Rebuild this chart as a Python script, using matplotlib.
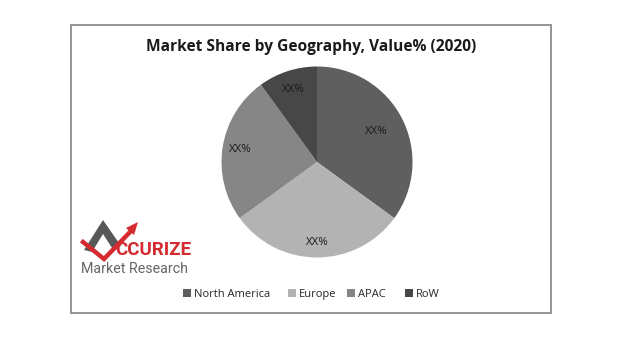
import numpy as np
import matplotlib
matplotlib.use("Agg")
import matplotlib.pyplot as plt
from matplotlib.patches import Rectangle, Polygon
from matplotlib import font_manager as fm
from matplotlib.lines import Line2D

# ---- data ----
categories = ["North America", "Europe", "APAC", "RoW"]
shares = [35, 30, 25, 10]
slice_labels = ["XX%", "XX%", "XX%", "XX%"]
title = "Market Share by Geography, Value% (2020)"

colors = ["#5f5f5f", "#b3b3b3", "#868686", "#474747"]
label_r = [0.70, 0.84, 0.81, 0.80]

available = {f.name for f in fm.fontManager.ttflist}
narrow = "Liberation Sans Narrow" if "Liberation Sans Narrow" in available else (
    "DejaVu Sans Condensed" if "DejaVu Sans Condensed" in available else "Roboto")

W, H = 640, 357
fig = plt.figure(figsize=(W / 100, H / 100), dpi=100)
fig.patch.set_facecolor("white")

def fx(x):
    return x / W

def fy(y):
    return 1 - y / H

# frame
fig.patches.append(Rectangle((fx(71), fy(313)), fx(551) - fx(71), fy(25) - fy(313),
                             transform=fig.transFigure, fill=False,
                             edgecolor="#8c8c8c", linewidth=1.3))

# title
fig.text(fx(311), fy(47), title, ha="center", va="center",
         fontsize=11.2, fontweight="bold", family="Open Sans", color="#1a1a1a")

# pie
cx, cy, r = 317, 162, 95.5
ax = fig.add_axes([fx(cx - r), fy(cy + r), 2 * r / W, 2 * r / H])
wedges, _ = ax.pie(shares, colors=colors, startangle=90, counterclock=False,
                   radius=1.0, wedgeprops=dict(linewidth=0))
ax.set_xlim(-1, 1)
ax.set_ylim(-1, 1)
ax.set_aspect("auto")
ax.axis("off")
for w, lab, d in zip(wedges, slice_labels, label_r):
    ang = np.deg2rad((w.theta1 + w.theta2) / 2)
    ax.text(d * np.cos(ang), d * np.sin(ang), lab, ha="center", va="center",
            fontsize=8.2, family="Open Sans", color="#1a1a1a")

# legend
leg_x = [187, 292, 351, 409]
for x, c, name in zip(leg_x, colors, categories):
    fig.patches.append(Rectangle((fx(x - 4), fy(297)), fx(8), 8 / H,
                                 transform=fig.transFigure, color=c, linewidth=0))
    fig.text(fx(x + 7), fy(297), name, ha="left", va="baseline",
             fontsize=8, family="Open Sans", color="#262626")

# logo
red = "#d42a30"
dgray = "#58585a"
fig.patches.append(Polygon([[fx(84), fy(250)], [fx(103), fy(220)], [fx(121), fy(246)],
                            [fx(114), fy(251)], [fx(103), fy(234)], [fx(92), fy(252)]],
                           closed=True, transform=fig.transFigure, color=dgray, lw=0))
fig.lines.append(Line2D([fx(83), fx(104), fx(131)], [fy(242), fy(259), fy(231)],
                        transform=fig.transFigure, color=red, lw=3.2,
                        solid_joinstyle="miter"))
fig.patches.append(Polygon([[fx(126), fy(228)], [fx(138), fy(222)], [fx(134), fy(235)]],
                           closed=True, transform=fig.transFigure, color=red, lw=0))
fig.text(fx(115), fy(250), "CCURIZE", ha="left", va="center", fontsize=13.5,
         fontweight="bold", family=narrow, color=red)
fig.text(fx(81), fy(269), "Market Research", ha="left", va="center", fontsize=10.3,
         family=narrow, color="#666666")

fig.savefig("out.png", dpi=100, facecolor="white")
